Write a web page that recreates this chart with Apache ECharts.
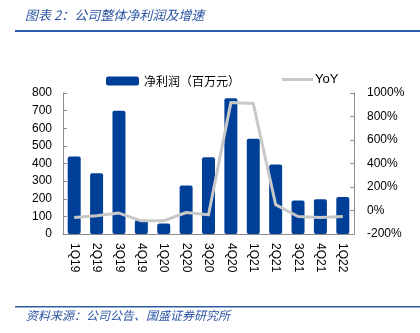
<!DOCTYPE html>
<html>
<head>
<meta charset="utf-8">
<script src="https://cdn.jsdelivr.net/npm/echarts@6/dist/echarts.min.js"></script>
<style>
  html, body { margin: 0; padding: 0; background: #fff; }
  #chart { width: 420px; height: 333px; }
</style>
</head>
<body>
<div id="chart"></div>
<script>
// Quarterly net profit (million yuan) and its year-over-year growth
const quarters = ['1Q19', '2Q19', '3Q19', '4Q19', '1Q20', '2Q20', '3Q20', '4Q20', '1Q21', '2Q21', '3Q21', '4Q21', '1Q22'];
const netProfit = [440, 345, 700, 80, 60, 275, 435, 770, 540, 395, 190, 197, 210];
const yoy = [-60, -45, -22, -88, -88, -17, -37, 920, 910, 50, -51, -60, -51];
const profitTicks = { min: 0, max: 800, interval: 100 };
const yoyTicks = { min: -200, max: 1000, interval: 200 };

const BLUE = '#003f98';
const GREY_LINE = '#c8c8c8';
const CAPTION = '#2b55a3';
const labelFont = '"Liberation Sans", Arial, sans-serif';
const cjkFont = '"Noto Sans CJK SC", sans-serif';

const chart = echarts.init(document.getElementById('chart'), null, { renderer: 'canvas' });

chart.setOption({
  animation: false,
  backgroundColor: '#fff',
  grid: { left: 63, right: 66, top: 93, bottom: 99, containLabel: false },
  legend: [
    {
      data: ['净利润（百万元）'],
      left: 101, top: 70,
      itemWidth: 33, itemHeight: 9,
      itemGap: 4,
      textStyle: { fontFamily: cjkFont, fontSize: 12, color: '#000' },
      selectedMode: false
    },
    {
      data: [{ name: 'YoY', icon: 'rect' }],
      left: 277, top: 68,
      itemWidth: 31, itemHeight: 3,
      textStyle: { fontFamily: labelFont, fontSize: 13, color: '#000', padding: [0, 0, 0, -3] },
      selectedMode: false
    }
  ],
  xAxis: {
    type: 'category',
    data: quarters,
    boundaryGap: true,
    axisLine: { lineStyle: { color: '#8c8c8c', width: 1 } },
    axisTick: { inside: true, length: 3, lineStyle: { color: '#8c8c8c' } },
    axisLabel: {
      rotate: -90, interval: 0, margin: 9,
      fontFamily: labelFont, fontSize: 12, color: '#000'
    }
  },
  yAxis: [
    {
      type: 'value',
      min: profitTicks.min, max: profitTicks.max, interval: profitTicks.interval,
      axisLine: { show: true, lineStyle: { color: '#8c8c8c' } },
      axisTick: { show: true, inside: true, length: 4, lineStyle: { color: '#8c8c8c' } },
      splitLine: { show: false },
      axisLabel: { fontFamily: labelFont, fontSize: 12, color: '#000', margin: 11 }
    },
    {
      type: 'value',
      min: yoyTicks.min, max: yoyTicks.max, interval: yoyTicks.interval,
      position: 'right',
      axisLine: { show: true, lineStyle: { color: '#8c8c8c' } },
      axisTick: { show: true, inside: true, length: 4, lineStyle: { color: '#8c8c8c' } },
      splitLine: { show: false },
      axisLabel: {
        fontFamily: labelFont, fontSize: 12, color: '#000', margin: 13,
        formatter: v => v + '%'
      }
    }
  ],
  series: [
    {
      name: '净利润（百万元）',
      type: 'bar',
      yAxisIndex: 0,
      data: netProfit,
      barWidth: 13,
      itemStyle: { color: BLUE, borderRadius: 2 }
    },
    {
      name: 'YoY',
      type: 'line',
      yAxisIndex: 1,
      data: yoy,
      symbol: 'none',
      lineStyle: { color: GREY_LINE, width: 3, join: 'round' },
      itemStyle: { color: GREY_LINE }
    }
  ],
  graphic: [
    {
      type: 'text', left: 25, top: 9,
      style: {
        text: '图表 2：公司整体净利润及增速',
        font: 'italic 13px "Noto Sans CJK SC", sans-serif',
        fill: CAPTION
      }
    },
    {
      type: 'rect', shape: { x: 15, y: 30, width: 405, height: 2 },
      style: { fill: '#2f5ca8' }
    },
    {
      type: 'rect', shape: { x: 15, y: 306, width: 405, height: 1.5 },
      style: { fill: '#2f5ca8' }
    },
    {
      type: 'text', left: 26, top: 309,
      style: {
        text: '资料来源：公司公告、国盛证券研究所',
        font: 'italic 12px "Noto Sans CJK SC", sans-serif',
        fill: CAPTION
      }
    }
  ]
});
</script>
</body>
</html>
